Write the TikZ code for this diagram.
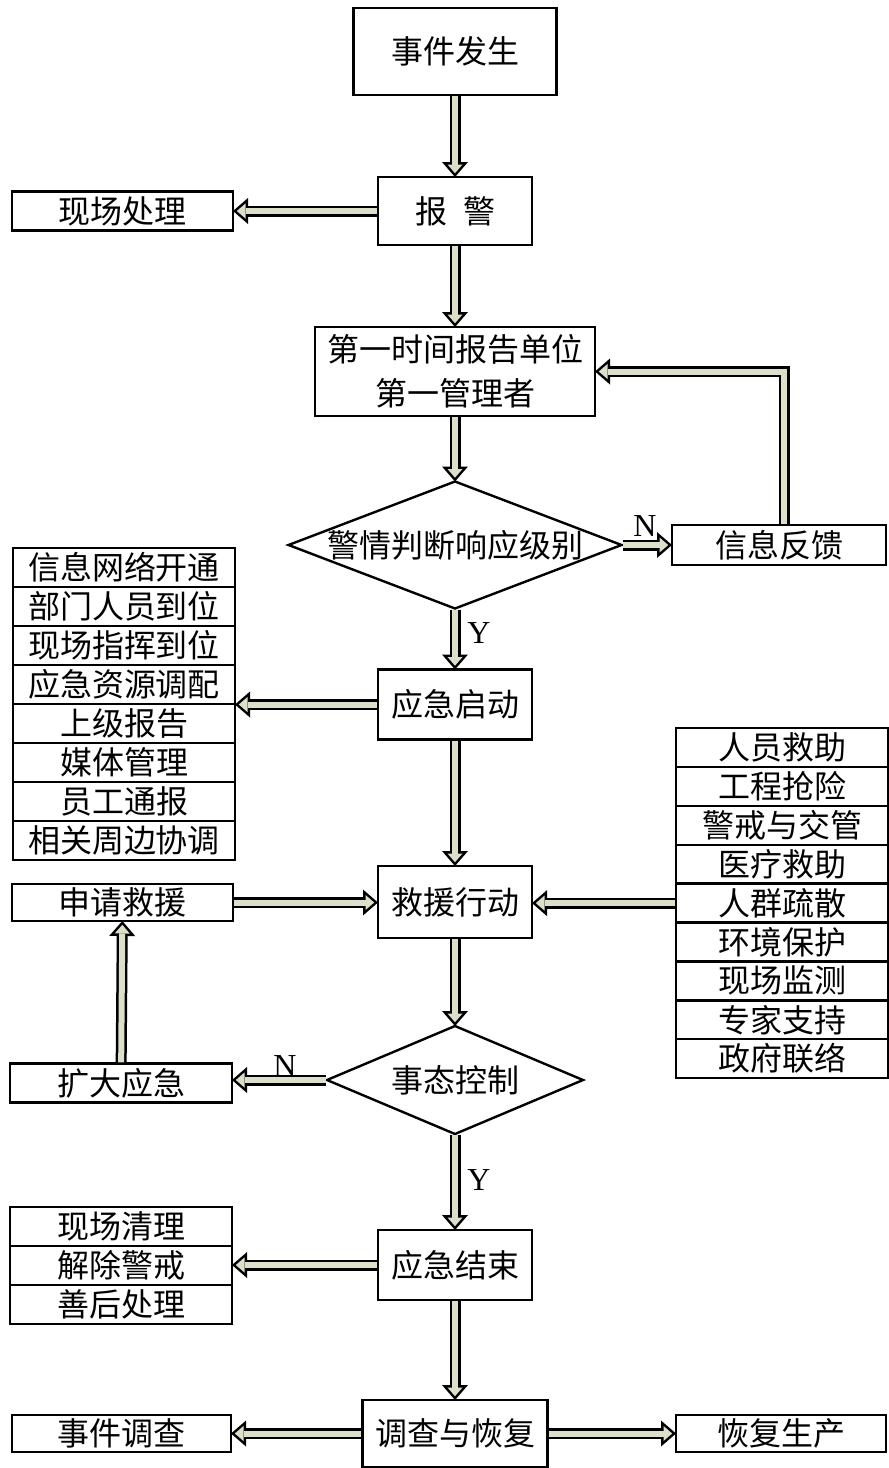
\documentclass[tikz,border=0pt]{standalone}
\usepackage{fontspec}
\setmainfont{Noto Sans CJK SC}
\newfontfamily\latinfont{Liberation Serif}
\usepackage{tikz}
\usetikzlibrary{arrows.meta,shapes.geometric}
\definecolor{arrowfill}{RGB}{221,223,203}

\begin{document}
\begin{tikzpicture}[x=1pt,y=-1pt,
  box/.style={rectangle,draw,line width=2.4pt,fill=white,inner sep=0pt,outer sep=0pt,font=\fontsize{32}{44}\selectfont,align=center},
  decision/.style={diamond,draw,line width=2.4pt,fill=white,inner sep=0pt,outer sep=0pt,font=\fontsize{32}{44}\selectfont},
  tag/.style={inner sep=0pt,font=\latinfont\fontsize{32}{32}\selectfont},
  flow/.style={line width=11pt,shorten <=1.2pt,-{Triangle[length=15pt,width=26pt,line width=0pt]},
    postaction={draw=arrowfill,line width=6pt,shorten >=3.8pt,-{Triangle[length=8.7pt,width=15pt,line width=0pt]}}}]
  \useasboundingbox (0,0) rectangle (889,1468);
  % main column
  \node[box,minimum width=203,minimum height=87] (start) at (455,51.5) {事件发生};
  \node[box,minimum width=154,minimum height=68] (alarm) at (455,211) {报\hspace{0.5em}警};
  \node[box,minimum width=221,minimum height=39] (onsite) at (122.5,211) {现场处理};
  \node[box,minimum width=280,minimum height=89] (first) at (455,371.5) {第一时间报告单位\\第一管理者};
  \node[decision,minimum width=333,minimum height=127] (judge) at (455,545) {\makebox[0pt]{警情判断响应级别}};
  \node[box,minimum width=214,minimum height=40] (info) at (779,545) {信息反馈};
  \node[box,minimum width=154,minimum height=70] (launch) at (455,704.5) {应急启动};
  % left list after launch
  \node[box,minimum width=222,minimum height=39] (sub1) at (124,567.5) {信息网络开通};
  \node[box,minimum width=222,minimum height=39] (sub2) at (124,606.5) {部门人员到位};
  \node[box,minimum width=222,minimum height=39] (sub3) at (124,645.5) {现场指挥到位};
  \node[box,minimum width=222,minimum height=39] (sub4) at (124,684.5) {应急资源调配};
  \node[box,minimum width=222,minimum height=39] (sub5) at (124,723.5) {上级报告};
  \node[box,minimum width=222,minimum height=39] (sub6) at (124,762.5) {媒体管理};
  \node[box,minimum width=222,minimum height=39] (sub7) at (124,801.5) {员工通报};
  \node[box,minimum width=222,minimum height=39] (sub8) at (124,840.5) {相关周边协调};
  \node[box,minimum width=154,minimum height=72] (rescue) at (455,902) {救援行动};
  \node[box,minimum width=221,minimum height=37] (request) at (122.5,902.5) {申请救援};
  % right list of actions
  \node[box,minimum width=212,minimum height=38.9] (act1) at (782,747.5) {人员救助};
  \node[box,minimum width=212,minimum height=38.9] (act2) at (782,786.4) {工程抢险};
  \node[box,minimum width=212,minimum height=38.9] (act3) at (782,825.3) {警戒与交管};
  \node[box,minimum width=212,minimum height=38.9] (act4) at (782,864.2) {医疗救助};
  \node[box,minimum width=212,minimum height=38.9] (act5) at (782,903.1) {人群疏散};
  \node[box,minimum width=212,minimum height=38.9] (act6) at (782,942) {环境保护};
  \node[box,minimum width=212,minimum height=38.9] (act7) at (782,980.9) {现场监测};
  \node[box,minimum width=212,minimum height=38.9] (act8) at (782,1019.8) {专家支持};
  \node[box,minimum width=212,minimum height=38.9] (act9) at (782,1058.7) {政府联络};
  \node[decision,minimum width=256,minimum height=108] (control) at (455,1080) {\makebox[0pt]{事态控制}};
  \node[box,minimum width=222,minimum height=39] (expand) at (121,1083) {扩大应急};
  \node[box,minimum width=154,minimum height=70] (finish) at (455,1265) {应急结束};
  \node[box,minimum width=222,minimum height=39] (end1) at (121,1226.5) {现场清理};
  \node[box,minimum width=222,minimum height=39] (end2) at (121,1265.5) {解除警戒};
  \node[box,minimum width=222,minimum height=39] (end3) at (121,1304.5) {善后处理};
  \node[box,minimum width=185,minimum height=67] (survey) at (455,1433.5) {调查与恢复};
  \node[box,minimum width=219,minimum height=37] (inquiry) at (121.5,1433.5) {事件调查};
  \node[box,minimum width=210,minimum height=37] (resume) at (781,1433.5) {恢复生产};
  % branch labels
  \node[tag] (no1) at (645,526) {N};
  \node[tag] (yes1) at (479,633) {Y};
  \node[tag] (no2) at (285,1066) {N};
  \node[tag] (yes2) at (479,1180) {Y};
  % connectors
  \draw[flow] (start) -- (alarm);
  \draw[flow] (alarm) -- (onsite);
  \draw[flow] (alarm) -- (first);
  \draw[flow] (first) -- (judge);
  \draw[flow] (judge.east) -- (info.west);
  \draw[flow] ([xshift=5pt]info.north) |- (first.east);
  \draw[flow] (judge.south) -- (launch);
  \draw[flow] (launch.west) -- (launch.west -| sub4.east);
  \draw[flow] (launch) -- (rescue);
  \draw[flow] (request.east) -- (request.east -| rescue.west);
  \draw[flow] (act5.west) -- (act5.west -| rescue.east);
  \draw[flow] (rescue) -- (control.north);
  \draw[flow] (control.west) -- (control.west -| expand.east);
  \draw[flow] (expand) -- (request);
  \draw[flow] (control.south) -- (finish);
  \draw[flow] (finish.west) -- (finish.west -| end2.east);
  \draw[flow] (finish) -- (survey);
  \draw[flow] (survey) -- (inquiry);
  \draw[flow] (survey) -- (resume);
\end{tikzpicture}
\end{document}
